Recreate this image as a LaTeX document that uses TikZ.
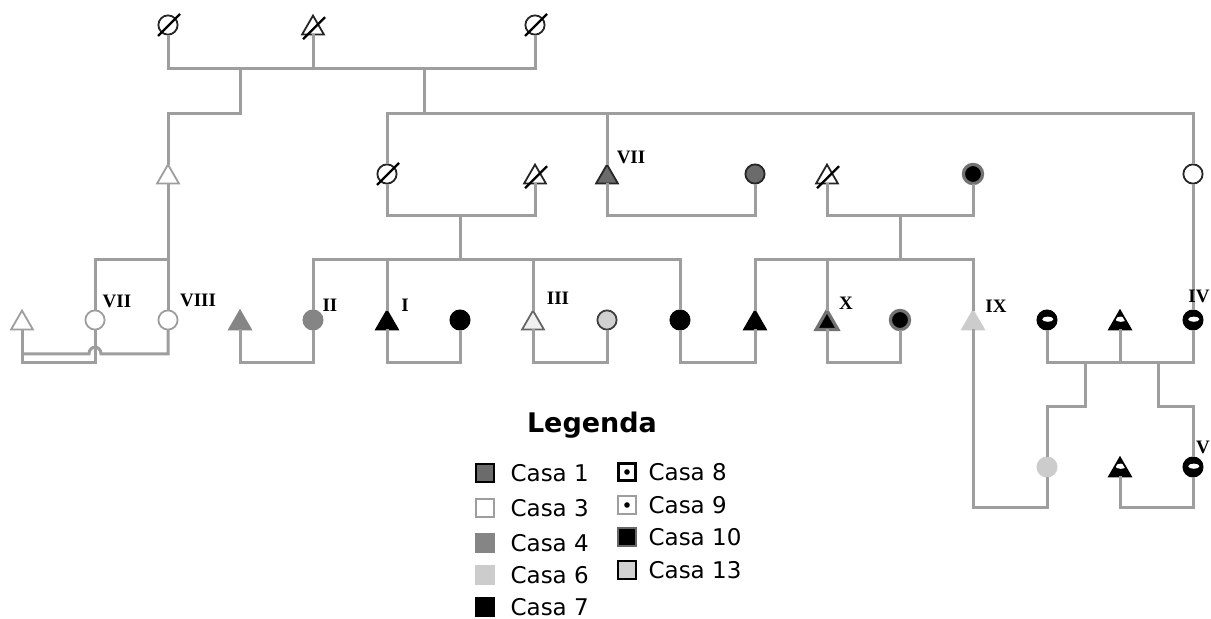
\documentclass[tikz,border=0pt]{standalone}
\usepackage{fontspec}
\usepackage{xcolor}
\usepackage{tikz}
\usetikzlibrary{shapes.geometric}
\usetikzlibrary{calc}
\usetikzlibrary{positioning}
\newfontfamily\legfont{DejaVu Sans}
\newfontfamily\labfont{Liberation Serif}
\definecolor{pedgray}{gray}{0.62}
\definecolor{casaone}{gray}{0.42}
\definecolor{casafour}{gray}{0.52}
\definecolor{casasix}{gray}{0.8}
\definecolor{casathirteen}{gray}{0.82}

\begin{document}
\begin{tikzpicture}[x=0.5pt,y=-0.5pt,semithick]
	\tikzstyle{pl}=[draw=pedgray, line width=1.5pt]
	\tikzstyle{ind}=[inner sep=0pt, outer sep=0pt, line width=0.9pt]
	\tikzstyle{circ}=[ind, circle, minimum size=9.6pt]
	\tikzstyle{tri}=[ind, regular polygon, regular polygon sides=3, minimum size=12.6pt, yshift=-1.6pt]
	\tikzstyle{open}=[fill=white, draw=pedgray]
	\tikzstyle{dark}=[fill=white, draw=black!85]
	\tikzstyle{pale}=[fill=black!6, draw=black!60]
	\tikzstyle{cs1}=[fill=casaone, draw=black!85]
	\tikzstyle{cs4}=[fill=casafour, draw=casafour]
	\tikzstyle{cs6}=[fill=casasix, draw=casasix]
	\tikzstyle{cs7}=[fill=black, draw=black]
	\tikzstyle{cs10}=[fill=black, draw=black!55, line width=1.6pt]
	\tikzstyle{cs13}=[fill=casathirteen, draw=black!75]
	\tikzstyle{cs8}=[fill=black, draw=black, path picture={\fill[white] ([xshift=0.4pt,yshift=0.4pt]path picture bounding box.center) ellipse [x radius=2.8pt, y radius=1.3pt];}]
	\tikzstyle{slash}=[draw=black, line width=1.1pt]
	\tikzstyle{lab}=[font=\labfont\bfseries\fontsize{9.5}{11}\selectfont, inner sep=0pt]
	\tikzstyle{legbox}=[rectangle, minimum size=8.6pt, inner sep=0pt, line width=1pt]
	\tikzstyle{legtext}=[font=\legfont\fontsize{11.5}{14}\selectfont, anchor=west, inner sep=0pt]
	\tikzstyle{lg1}=[fill=casaone, draw=black]
	\tikzstyle{lg3}=[fill=white, draw=pedgray]
	\tikzstyle{lg4}=[fill=casafour, draw=casafour]
	\tikzstyle{lg6}=[fill=casasix, draw=casasix]
	\tikzstyle{lg7}=[fill=black, draw=black]
	\tikzstyle{lg8}=[fill=white, draw=black, line width=1.3pt, path picture={\fill[black] (path picture bounding box.center) circle (1.4pt);}]
	\tikzstyle{lg9}=[fill=white, draw=pedgray, path picture={\fill[black] (path picture bounding box.center) circle (1.4pt);}]
	\tikzstyle{lg10}=[fill=black, draw=black!60]
	\tikzstyle{lg13}=[fill=casathirteen, draw=black]

	\path[fill=white, use as bounding box] (0,0) rectangle (1211,619);

	% levels of the connecting lines
	\coordinate (y69) at (0,69);
	\coordinate (y114) at (0,114);
	\coordinate (y216) at (0,216);
	\coordinate (y260) at (0,260);
	\coordinate (y363) at (0,363);
	\coordinate (y407) at (0,407);
	\coordinate (y508) at (0,508);

	% first generation
	\node[circ,dark] (a1) at (168,25) {};
	\node[tri,dark] (a2) at (313,25) {};
	\node[circ,dark] (a3) at (535,25) {};

	% second generation
	\node[tri,open] (b1) at (168,174) {};
	\node[circ,dark] (b2) at (387,174) {};
	\node[tri,dark] (b3) at (535,174) {};
	\node[tri,cs1] (b4) at (607,174) {};
	\node[circ,cs1] (b5) at (755,174) {};
	\node[tri,dark] (b6) at (827,174) {};
	\node[circ,cs10] (b7) at (973,174) {};
	\node[circ,dark] (b8) at (1193,174) {};

	% third generation
	\node[tri,open] (c1) at (22,320) {};
	\node[circ,open] (c2) at (95,320) {};
	\node[circ,open] (c3) at (168,320) {};
	\node[tri,cs4] (c4) at (240,320) {};
	\node[circ,cs4] (c5) at (313,320) {};
	\node[tri,cs7] (c6) at (387,320) {};
	\node[circ,cs7] (c7) at (460,320) {};
	\node[tri,pale] (c8) at (533,320) {};
	\node[circ,cs13] (c9) at (607,320) {};
	\node[circ,cs7] (c10) at (680,320) {};
	\node[tri,cs7] (c11) at (755,320) {};
	\node[tri,cs10] (c12) at (827,320) {};
	\node[circ,cs10] (c13) at (900,320) {};
	\node[tri,cs6] (c14) at (973,320) {};
	\node[circ,cs8] (c15) at (1047,320) {};
	\node[tri,cs8] (c16) at (1120,320) {};
	\node[circ,cs8] (c17) at (1193,320) {};

	% fourth generation
	\node[circ,cs6] (d1) at (1047,467) {};
	\node[tri,cs8] (d2) at (1120,467) {};
	\node[circ,cs8] (d3) at (1193,467) {};

	% deceased
	\foreach \n in {a1,a2,a3,b2,b3,b6}
		\draw[slash] (\n.center) ++(-10,11) -- ++(22,-22);

	% top couple and its two branches
	\draw[pl] (a1) |- (a3 |- y69) -- (a3);
	\draw[pl] (a2) -- (a2 |- y69);
	\coordinate (j1) at (240,69);
	\coordinate (j2) at (424,69);
	\draw[pl] (j1) |- (b1 |- y114) -- (b1);
	\draw[pl] (j2) -- (j2 |- y114);
	\draw[pl] (b2) |- (b8 |- y114) -- (b8);
	\draw[pl] (b4) -- (b4 |- y114);

	% couples
	\foreach \p/\q/\l in {b2/b3/y216, b4/b5/y216, b6/b7/y216, c1/c2/y363, c4/c5/y363, c6/c7/y363, c8/c9/y363, c10/c11/y363, c12/c13/y363, c15/c17/y363, d2/d3/y508}
		\draw[pl] (\p) |- (\q |- \l) -- (\q);

	% sibships
	\coordinate (j3) at (460,216);
	\coordinate (j4) at (900,216);
	\draw[pl] (j3) -- (j3 |- y260);
	\draw[pl] (c5) |- (c10 |- y260) -- (c10);
	\foreach \n in {c6,c8}
		\draw[pl] (\n) -- (\n |- y260);
	\draw[pl] (j4) -- (j4 |- y260);
	\draw[pl] (c11) |- (c14 |- y260) -- (c14);
	\draw[pl] (c12) -- (c12 |- y260);

	% left side
	\draw[pl] (b1) -- (c3);
	\draw[pl] (c2) |- (c3 |- y260);
	\coordinate (h1) at (89,354);
	\coordinate (h2) at (101,354);
	\draw[pl] (c1 |- h1) -- (h1) .. controls +(0,-9) and +(0,-9) .. (h2) -| (c3);

	% right side
	\draw[pl] (b8) -- (c17);
	\draw[pl] (c16) -- (c16 |- y363);
	\coordinate (j5) at (1085,363);
	\coordinate (j6) at (1158,363);
	\draw[pl] (j5) |- (d1 |- y407) -- (d1);
	\draw[pl] (j6) |- (d3 |- y407) -- (d3);
	\draw[pl] (c14) |- (d1 |- y508) -- (d1);

	% roman numerals
	\foreach \t/\x/\y/\n in {VII/631/157/l4, VII/117/301/l2, VIII/198/300/l3, II/330/305/l5, I/405/305/l6, III/558/298/l8, X/846/303/l12, IX/996/306/l14, IV/1199/296/l17, V/1203/447/ld3}
		\node[lab] (\n) at (\x,\y) {\t};

	% legend
	\node[font=\legfont\bfseries\fontsize{13.5}{16}\selectfont, inner sep=0pt] (leg) at (592,425) {Legenda};
	\foreach \s/\t/\x/\tx/\y in {lg1/Casa 1/485/510/473, lg3/Casa 3/485/510/508, lg4/Casa 4/485/510/543, lg6/Casa 6/485/510/575, lg7/Casa 7/485/510/607, lg8/Casa 8/627/648/472, lg9/Casa 9/627/648/505, lg10/Casa 10/627/648/537, lg13/Casa 13/627/648/570}{
		\node[legbox,\s] (\s) at (\x,\y) {};
		\node[legtext] (\s t) at (\tx,\y) {\t};
	}
\end{tikzpicture}
\end{document}
